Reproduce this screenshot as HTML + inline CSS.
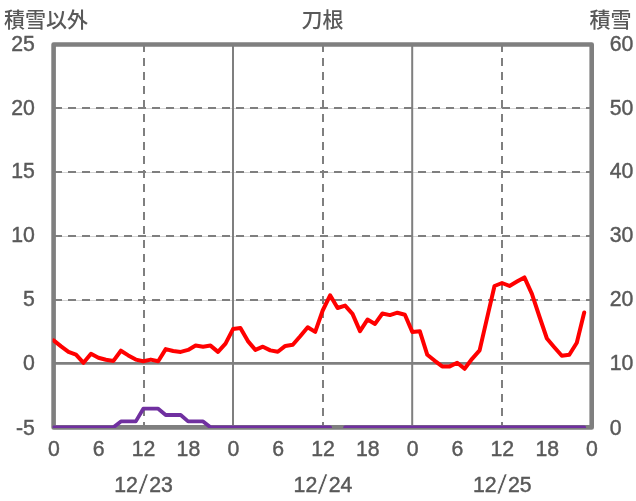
<!DOCTYPE html>
<html lang="ja"><head><meta charset="utf-8"><title>刀根</title>
<style>
html,body{margin:0;padding:0;background:#fff;}
body{width:636px;height:501px;overflow:hidden;}
svg{display:block;}
text{font-family:"Liberation Sans","Noto Sans CJK JP",sans-serif;font-size:21px;fill:#595959;}
.jp{font-family:"Noto Sans CJK JP","Liberation Sans",sans-serif;font-size:21px;font-weight:500;}
.n{font-size:22.6px;stroke:#595959;stroke-width:0.45px;}
</style></head><body>
<svg width="636" height="501" viewBox="0 0 636 501">
<rect width="636" height="501" fill="#fff"/>
<defs><clipPath id="pc"><rect x="52.6" y="40" width="541" height="388"/></clipPath></defs>
<line x1="54" x2="591" y1="108.5" y2="108.5" stroke="#d4d4d4" stroke-width="1"/>
<line x1="54" x2="591" y1="172.5" y2="172.5" stroke="#d4d4d4" stroke-width="1"/>
<line x1="54" x2="591" y1="236.5" y2="236.5" stroke="#d4d4d4" stroke-width="1"/>
<line x1="54" x2="591" y1="300.5" y2="300.5" stroke="#d4d4d4" stroke-width="1"/>
<line x1="54" x2="591" y1="108" y2="108" stroke="#7f7f7f" stroke-width="2" stroke-dasharray="8 6"/>
<line x1="54" x2="591" y1="172" y2="172" stroke="#7f7f7f" stroke-width="2" stroke-dasharray="8 6"/>
<line x1="54" x2="591" y1="236" y2="236" stroke="#7f7f7f" stroke-width="2" stroke-dasharray="8 6"/>
<line x1="54" x2="591" y1="300" y2="300" stroke="#7f7f7f" stroke-width="2" stroke-dasharray="8 6"/>
<line x1="144" x2="144" y1="44" y2="427" stroke="#7f7f7f" stroke-width="2" stroke-dasharray="8 6"/>
<line x1="323" x2="323" y1="44" y2="427" stroke="#7f7f7f" stroke-width="2" stroke-dasharray="8 6"/>
<line x1="502" x2="502" y1="44" y2="427" stroke="#7f7f7f" stroke-width="2" stroke-dasharray="8 6"/>
<line x1="233" x2="233" y1="44" y2="427" stroke="#7f7f7f" stroke-width="2"/>
<line x1="412.2" x2="412.2" y1="44" y2="427" stroke="#7f7f7f" stroke-width="2"/>
<line x1="54" x2="591" y1="363.4" y2="363.4" stroke="#7f7f7f" stroke-width="2.7"/>
<rect x="53.6" y="44.5" width="538.1" height="382.9" fill="none" stroke="#7f7f7f" stroke-width="4.6" stroke-linejoin="round"/>
<g clip-path="url(#pc)" fill="none" stroke-linejoin="round" stroke-linecap="round">
<polyline points="53.6,427.3 61.1,427.3 68.5,427.3 76.0,427.3 83.5,427.3 91.0,427.3 98.4,427.3 105.9,427.3 113.4,427.3 120.9,421.4 128.3,421.4 135.8,421.4 143.3,408.7 150.8,408.7 158.2,408.7 165.7,415.0 173.2,415.0 180.7,415.0 188.1,421.4 195.6,421.4 203.1,421.4 210.5,427.3 218.0,427.3 225.5,427.3 233.0,427.3 240.4,427.3 247.9,427.3 255.4,427.3 262.9,427.3 270.3,427.3 277.8,427.3 285.3,427.3 292.8,427.3 300.2,427.3 307.7,427.3 315.2,427.3 322.7,427.3 330.1,427.3" stroke="#7030a0" stroke-width="3.8"/>
<polyline points="345.1,427.3 352.5,427.3 360.0,427.3 367.5,427.3 375.0,427.3 382.4,427.3 389.9,427.3 397.4,427.3 404.9,427.3 412.3,427.3 419.8,427.3 427.3,427.3 434.8,427.3 442.2,427.3 449.7,427.3 457.2,427.3 464.6,427.3 472.1,427.3 479.6,427.3 487.1,427.3 494.5,427.3 502.0,427.3 509.5,427.3 517.0,427.3 524.4,427.3 531.9,427.3 539.4,427.3 546.9,427.3 554.3,427.3 561.8,427.3 569.3,427.3 576.8,427.3 584.2,427.3" stroke="#7030a0" stroke-width="3.8"/>
<polyline points="53.6,340.4 61.1,346.4 68.5,351.9 76.0,354.6 83.5,362.8 91.0,353.8 98.4,357.7 105.9,359.8 113.4,360.9 120.9,350.7 128.3,355.4 135.8,359.6 143.3,361.2 150.8,359.6 158.2,361.2 165.7,349.1 173.2,351.0 180.7,351.9 188.1,349.9 195.6,345.6 203.1,346.7 210.5,345.6 218.0,351.9 225.5,343.6 233.0,329.1 240.4,328.0 247.9,341.1 255.4,349.9 262.9,346.7 270.3,350.4 277.8,351.8 285.3,345.9 292.8,344.8 300.2,336.3 307.7,327.2 315.2,331.9 322.7,310.5 330.1,295.3 337.6,308.0 345.1,305.6 352.5,313.9 360.0,331.1 367.5,319.6 375.0,323.9 382.4,313.5 389.9,315.1 397.4,312.7 404.9,314.7 412.3,331.9 419.8,331.2 427.3,354.8 434.8,360.8 442.2,366.4 449.7,366.4 457.2,362.8 464.6,368.8 472.1,358.8 479.6,350.4 487.1,317.9 494.5,286.0 502.0,283.0 509.5,286.0 517.0,281.6 524.4,277.4 531.9,293.9 539.4,316.5 546.9,338.5 554.3,347.2 561.8,355.8 569.3,354.8 576.8,342.8 584.2,312.5" stroke="#ff0000" stroke-width="4"/>
</g>
<text class="n" transform="translate(34.8,50.8) scale(0.94,1)" text-anchor="end">25</text>
<text class="n" transform="translate(34.8,114.6) scale(0.94,1)" text-anchor="end">20</text>
<text class="n" transform="translate(34.8,178.4) scale(0.94,1)" text-anchor="end">15</text>
<text class="n" transform="translate(34.8,242.2) scale(0.94,1)" text-anchor="end">10</text>
<text class="n" transform="translate(34.8,306.1) scale(0.94,1)" text-anchor="end">5</text>
<text class="n" transform="translate(34.8,370.2) scale(0.94,1)" text-anchor="end">0</text>
<text class="n" transform="translate(34.8,434.7) scale(0.94,1)" text-anchor="end">-5</text>
<text class="n" transform="translate(609.8,50.8) scale(0.94,1)" text-anchor="start">60</text>
<text class="n" transform="translate(609.8,114.6) scale(0.94,1)" text-anchor="start">50</text>
<text class="n" transform="translate(609.8,178.4) scale(0.94,1)" text-anchor="start">40</text>
<text class="n" transform="translate(609.8,242.2) scale(0.94,1)" text-anchor="start">30</text>
<text class="n" transform="translate(609.8,306.1) scale(0.94,1)" text-anchor="start">20</text>
<text class="n" transform="translate(609.8,370.2) scale(0.94,1)" text-anchor="start">10</text>
<text class="n" transform="translate(609.8,434.7) scale(0.94,1)" text-anchor="start">0</text>
<text class="n" transform="translate(53.9,455.6) scale(0.94,1)" text-anchor="middle">0</text>
<text class="n" transform="translate(98.7,455.6) scale(0.94,1)" text-anchor="middle">6</text>
<text class="n" transform="translate(143.6,455.6) scale(0.94,1)" text-anchor="middle">12</text>
<text class="n" transform="translate(188.4,455.6) scale(0.94,1)" text-anchor="middle">18</text>
<text class="n" transform="translate(233.3,455.6) scale(0.94,1)" text-anchor="middle">0</text>
<text class="n" transform="translate(278.1,455.6) scale(0.94,1)" text-anchor="middle">6</text>
<text class="n" transform="translate(323.0,455.6) scale(0.94,1)" text-anchor="middle">12</text>
<text class="n" transform="translate(367.8,455.6) scale(0.94,1)" text-anchor="middle">18</text>
<text class="n" transform="translate(412.6,455.6) scale(0.94,1)" text-anchor="middle">0</text>
<text class="n" transform="translate(457.5,455.6) scale(0.94,1)" text-anchor="middle">6</text>
<text class="n" transform="translate(502.3,455.6) scale(0.94,1)" text-anchor="middle">12</text>
<text class="n" transform="translate(547.2,455.6) scale(0.94,1)" text-anchor="middle">18</text>
<text class="n" transform="translate(592.0,455.6) scale(0.94,1)" text-anchor="middle">0</text>
<text class="n" transform="translate(137.8,491.6) scale(0.94,1)" text-anchor="end">12</text>
<text transform="translate(143.2,493.8) scale(1.9,1.34)" text-anchor="middle" style="font-size:20px;stroke:#fff;stroke-width:0.5px">/</text><text class="n" transform="translate(149.3,491.6) scale(0.94,1)" text-anchor="start">23</text>
<text class="n" transform="translate(317.2,491.6) scale(0.94,1)" text-anchor="end">12</text>
<text transform="translate(322.6,493.8) scale(1.9,1.34)" text-anchor="middle" style="font-size:20px;stroke:#fff;stroke-width:0.5px">/</text><text class="n" transform="translate(328.7,491.6) scale(0.94,1)" text-anchor="start">24</text>
<text class="n" transform="translate(496.5,491.6) scale(0.94,1)" text-anchor="end">12</text>
<text transform="translate(501.9,493.8) scale(1.9,1.34)" text-anchor="middle" style="font-size:20px;stroke:#fff;stroke-width:0.5px">/</text><text class="n" transform="translate(508.0,491.6) scale(0.94,1)" text-anchor="start">25</text>
<text class="jp" x="4" y="26.5">積雪以外</text>
<text class="jp" x="322.5" y="26.5" text-anchor="middle">刀根</text>
<text class="jp" x="589.5" y="26.5">積雪</text>
</svg>
</body></html>
